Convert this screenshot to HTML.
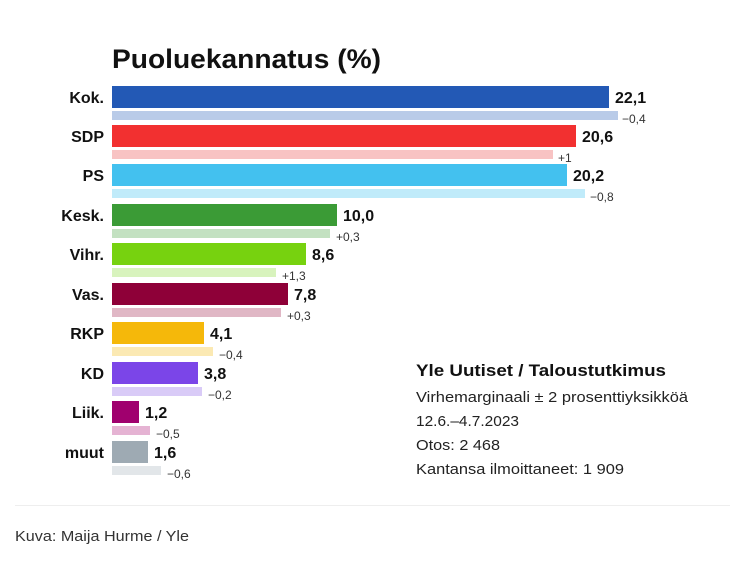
<!DOCTYPE html>
<html><head><meta charset="utf-8"><style>
body{margin:0;background:#fff;width:737px;height:570px;overflow:hidden;font-family:"Liberation Sans",sans-serif;}
svg{display:block}
</style></head><body>
<svg width="737" height="570" xmlns="http://www.w3.org/2000/svg" font-family="Liberation Sans, sans-serif">
<text x="112" y="68" font-size="27" font-weight="bold" fill="#111" textLength="269" lengthAdjust="spacingAndGlyphs">Puoluekannatus (%)</text>
<text x="416" y="376" font-size="17" font-weight="bold" fill="#111" textLength="250" lengthAdjust="spacingAndGlyphs">Yle Uutiset / Taloustutkimus</text>
<text x="416" y="402" font-size="15" fill="#222" textLength="272" lengthAdjust="spacingAndGlyphs">Virhemarginaali ± 2 prosenttiyksikköä</text>
<text x="416" y="426" font-size="15" fill="#222" textLength="103" lengthAdjust="spacingAndGlyphs">12.6.–4.7.2023</text>
<text x="416" y="450" font-size="15" fill="#222" textLength="84" lengthAdjust="spacingAndGlyphs">Otos: 2 468</text>
<text x="416" y="474" font-size="15" fill="#222" textLength="208" lengthAdjust="spacingAndGlyphs">Kantansa ilmoittaneet: 1 909</text>
<line x1="15" y1="505.5" x2="730" y2="505.5" stroke="#eee" stroke-width="1"/>
<text x="15" y="541" font-size="14.5" fill="#333" textLength="174" lengthAdjust="spacingAndGlyphs">Kuva: Maija Hurme / Yle</text>
<g font-size="16" font-weight="bold" fill="#111">
<rect x="112" y="86" width="497" height="22" fill="#2359b5"/><rect x="112" y="111" width="506" height="9" fill="#b9cbe8"/>
<text x="104" y="103" text-anchor="end">Kok.</text><text x="615" y="103">22,1</text>
<rect x="112" y="125" width="464" height="22" fill="#f23030"/><rect x="112" y="150" width="441" height="9" fill="#f8c3c3"/>
<text x="104" y="142" text-anchor="end">SDP</text><text x="582" y="142">20,6</text>
<rect x="112" y="164" width="455" height="22" fill="#43c1ef"/><rect x="112" y="189" width="473" height="9" fill="#c0ebfa"/>
<text x="104" y="181" text-anchor="end">PS</text><text x="573" y="181">20,2</text>
<rect x="112" y="204" width="225" height="22" fill="#3b9b36"/><rect x="112" y="229" width="218" height="9" fill="#c3e1c1"/>
<text x="104" y="221" text-anchor="end">Kesk.</text><text x="343" y="221">10,0</text>
<rect x="112" y="243" width="194" height="22" fill="#77d20f"/><rect x="112" y="268" width="164" height="9" fill="#d8f3bd"/>
<text x="104" y="260" text-anchor="end">Vihr.</text><text x="312" y="260">8,6</text>
<rect x="112" y="283" width="176" height="22" fill="#8e0038"/><rect x="112" y="308" width="169" height="9" fill="#e0b7c5"/>
<text x="104" y="300" text-anchor="end">Vas.</text><text x="294" y="300">7,8</text>
<rect x="112" y="322" width="92" height="22" fill="#f5b80a"/><rect x="112" y="347" width="101" height="9" fill="#fbe9b3"/>
<text x="104" y="339" text-anchor="end">RKP</text><text x="210" y="339">4,1</text>
<rect x="112" y="362" width="86" height="22" fill="#7b45e8"/><rect x="112" y="387" width="90" height="9" fill="#d9cbf7"/>
<text x="104" y="379" text-anchor="end">KD</text><text x="204" y="379">3,8</text>
<rect x="112" y="401" width="27" height="22" fill="#a0006e"/><rect x="112" y="426" width="38" height="9" fill="#e5b3d3"/>
<text x="104" y="418" text-anchor="end">Liik.</text><text x="145" y="418">1,2</text>
<rect x="112" y="441" width="36" height="22" fill="#9eaab3"/><rect x="112" y="466" width="49" height="9" fill="#e2e6e9"/>
<text x="104" y="458" text-anchor="end">muut</text><text x="154" y="458">1,6</text>
</g>
<g font-size="12" fill="#333">
<text x="622" y="123">−0,4</text>
<text x="558" y="162">+1</text>
<text x="590" y="201">−0,8</text>
<text x="336" y="241">+0,3</text>
<text x="282" y="280">+1,3</text>
<text x="287" y="320">+0,3</text>
<text x="219" y="359">−0,4</text>
<text x="208" y="399">−0,2</text>
<text x="156" y="438">−0,5</text>
<text x="167" y="478">−0,6</text>
</g>
</svg>
</body></html>
